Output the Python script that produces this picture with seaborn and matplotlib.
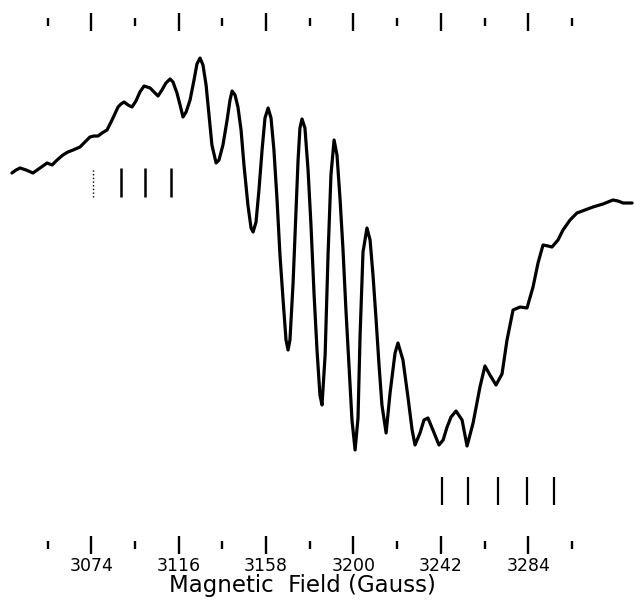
import matplotlib
matplotlib.use('Agg')
import matplotlib.pyplot as plt
import seaborn as sns

# EPR 1차 미분 스펙트럼 (값은 그림에서 읽음, 신호는 임의 단위)
field = [3035.9, 3037.9, 3039.8, 3042.7, 3046.0, 3049.4, 3052.8, 3055.2, 3057.6, 3060.4,
         3062.8, 3065.3, 3068.6, 3071.0, 3073.4, 3075.3, 3077.3, 3079.2, 3081.6, 3084.0,
         3086.9, 3088.3, 3089.8, 3091.7, 3093.6, 3095.5, 3097.4, 3099.4, 3102.3, 3104.2,
         3106.1, 3108.0, 3109.9, 3111.9, 3113.3, 3115.2, 3116.7, 3118.1, 3119.6, 3121.5,
         3123.4, 3124.8, 3126.3, 3127.7, 3129.2, 3130.6, 3132.0, 3134.0, 3135.4, 3137.3,
         3139.3, 3140.7, 3141.7, 3143.1, 3144.5, 3146.0, 3147.4, 3149.3, 3150.8, 3151.8,
         3153.2, 3154.6, 3156.1, 3157.5, 3159.0, 3160.4, 3161.8, 3163.3, 3164.7, 3166.2,
         3167.6, 3168.6, 3169.5, 3171.0, 3172.4, 3173.4, 3174.3, 3175.3, 3176.7, 3178.2,
         3179.6, 3181.1, 3182.5, 3183.9, 3184.9, 3186.4, 3187.8, 3189.2, 3190.7, 3192.1,
         3193.6, 3195.0, 3196.4, 3197.9, 3199.3, 3200.8, 3202.2, 3203.2, 3204.6, 3206.5,
         3208.0, 3209.4, 3210.9, 3212.3, 3213.7, 3215.7, 3217.6, 3220.0, 3221.4, 3223.8,
         3226.2, 3228.2, 3229.6, 3232.0, 3233.9, 3235.8, 3238.2, 3241.1, 3243.1, 3245.0,
         3246.9, 3249.3, 3252.2, 3254.6, 3257.5, 3260.8, 3263.2, 3265.6, 3268.5, 3271.4,
         3273.8, 3276.7, 3280.1, 3283.4, 3286.3, 3288.7, 3291.1, 3293.5, 3295.4, 3298.3,
         3300.7, 3304.1, 3307.4, 3311.3, 3315.1, 3319.9, 3324.7, 3327.1, 3329.6, 3333.9]

signal = [1.27, 1.30, 1.32, 1.30, 1.27, 1.32, 1.37, 1.35, 1.40, 1.45,
          1.48, 1.50, 1.53, 1.58, 1.63, 1.64, 1.64, 1.67, 1.70, 1.80,
          1.93, 1.96, 1.98, 1.95, 1.93, 1.99, 2.08, 2.14, 2.12, 2.08,
          2.04, 2.10, 2.17, 2.21, 2.18, 2.07, 1.95, 1.83, 1.88, 2.00,
          2.20, 2.36, 2.42, 2.35, 2.15, 1.85, 1.55, 1.37, 1.40, 1.55,
          1.80, 2.00, 2.09, 2.05, 1.93, 1.70, 1.35, 0.95, 0.72, 0.68,
          0.78, 1.10, 1.50, 1.82, 1.92, 1.82, 1.50, 1.00, 0.45, 0.00,
          -0.40, -0.50, -0.40, 0.17, 0.90, 1.40, 1.72, 1.81, 1.72, 1.30,
          0.75, 0.05, -0.50, -0.95, -1.05, -0.55, 0.45, 1.25, 1.60, 1.45,
          1.00, 0.50, -0.10, -0.67, -1.20, -1.50, -1.18, -0.35, 0.48, 0.72,
          0.60, 0.25, -0.20, -0.65, -1.05, -1.33, -0.93, -0.53, -0.43, -0.60,
          -0.97, -1.30, -1.45, -1.33, -1.20, -1.18, -1.30, -1.45, -1.40, -1.27,
          -1.17, -1.11, -1.20, -1.46, -1.23, -0.87, -0.66, -0.75, -0.85, -0.74,
          -0.40, -0.10, -0.07, -0.08, 0.13, 0.37, 0.55, 0.54, 0.53, 0.60,
          0.70, 0.80, 0.87, 0.90, 0.93, 0.96, 1.00, 0.99, 0.97, 0.97]

# 스틱 다이어그램 위치 (Gauss)
sticks_low = [3074.9, 3088.3, 3099.8, 3112.3]
sticks_high = [3242.4, 3255.1, 3269.3, 3283.3, 3296.4]

# 눈금
major_ticks = [3074, 3116, 3158, 3200, 3242, 3284]
minor_ticks = [3053, 3095, 3137, 3179, 3221, 3263, 3305]

sns.set_style('white')
plt.rcParams['font.family'] = ['DejaVu Sans']
plt.rcParams['text.color'] = 'black'
plt.rcParams['axes.labelcolor'] = 'black'
plt.rcParams['xtick.color'] = 'black'

fig = plt.figure(figsize=(6.35, 6.03), dpi=100)
ax = fig.add_axes([0, 58 / 603, 1, 523 / 603])

sns.lineplot(x=field, y=signal, sort=False, estimator=None, color='black',
             linewidth=2.3, ax=ax)
ax.lines[0].set_solid_joinstyle('round')
ax.lines[0].set_solid_capstyle('round')

# 스틱 표시
ax.vlines(sticks_low[0], 1.03, 1.32, colors='black', linewidth=1.0, linestyles=':')
ax.vlines(sticks_low[1:], 1.03, 1.32, colors='black', linewidth=1.8)
ax.vlines(sticks_high, -2.05, -1.77, colors='black', linewidth=1.6)

ax.set_xlim(3030.17, 3335.3)
ax.set_ylim(-2.45, 2.78)

for sp in ax.spines.values():
    sp.set_visible(False)

ax.set_xticks(major_ticks)
ax.set_xticklabels([str(t) for t in major_ticks])
ax.set_xticks(minor_ticks, minor=True)
ax.set_yticks([])
ax.tick_params(axis='x', which='both', direction='inout', top=True, bottom=True,
               width=1.7, color='black', labelcolor='black')
ax.tick_params(axis='x', which='major', length=13, pad=2, labelsize=12.5)
ax.tick_params(axis='x', which='minor', length=6)

ax.set_xlabel('Magnetic  Field (Gauss)', fontsize=16.5, color='black')
ax.xaxis.set_label_coords(302 / 635, -0.0765)
ax.xaxis.label.set_verticalalignment('center')
ax.set_ylabel('')

fig.savefig('out.png', dpi=100)
